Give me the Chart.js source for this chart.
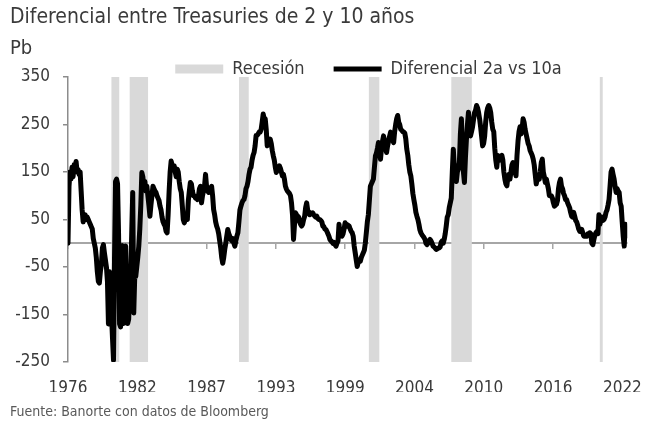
<!DOCTYPE html>
<html>
<head>
<meta charset="utf-8">
<script src="https://cdn.jsdelivr.net/npm/chart.js@4.4.1/dist/chart.umd.min.js"></script>
<style>
  body { margin: 0; background: #fff; }
  #wrap { position: relative; width: 650px; height: 429px; font-family: 'Liberation Sans Narrow', 'DejaVu Sans Condensed', sans-serif; color: #3a3a3a; }
  #title { position: absolute; left: 10px; top: 4px; font-size: 21px; }
  #unit { position: absolute; left: 10px; top: 35px; font-size: 20px; }
  #source { position: absolute; left: 10px; top: 403px; font-size: 14px; color: #595959; }
  canvas { position: absolute; left: 0; top: 0; }
</style>
</head>
<body>
<div id="wrap">
  <canvas id="spreadChart" width="650" height="429"></canvas>
  <div id="title">Diferencial entre Treasuries de 2 y 10 años</div>
  <div id="unit">Pb</div>
  <div id="source">Fuente: Banorte con datos de Bloomberg</div>
</div>
<script>
// diferencial 2a vs 10a, pb, mensual desde junio 1976
const firstYear = 1976;
const firstMonth = 6;
const spread = [
  0, 120, 150, 135, 160, 140, 165,                           // 1976
  160, 172, 150, 155, 145, 150, 110, 70, 45, 55, 60, 50,      // 1977
  55, 50, 45, 40, 35, 30, 10, 0, -10, -30, -60, -80,          // 1978
  -84, -60, -45, -10, -3, -20, -35, -50, -80, -170, -60, -90, // 1979
  -150, -200, -246, -30, 130, 135, 125, 20, -170, -176, -80, -5, // 1980
  -169, -90, -6, -120, -169, -160, -100, -70, 20, 107, -147, -70, // 1981
  -70, -50, -30, -6, 30, 80, 149, 140, 120, 130, 110, 120,    // 1982
  100, 80, 57, 80, 100, 120, 115, 110, 107, 100, 95, 90,      // 1983
  78, 70, 55, 45, 40, 36, 25, 22, 60, 110, 150, 173,          // 1984
  165, 160, 163, 150, 140, 156, 150, 130, 115, 107, 80, 50,   // 1985
  43, 50, 55, 50, 90, 110, 128, 125, 110, 100, 100, 95,       // 1986
  95, 92, 100, 115, 120, 85, 100, 110, 120, 145, 120, 110,    // 1987
  107, 110, 115, 120, 100, 71, 60, 45, 36, 30, 20, 5,         // 1988
  -10, -30, -42, -30, -13, 0, 15, 29, 20, 15, 8, 5,           // 1989
  10, 0, -6, 5, 15, 22, 45, 70, 78, 85, 90, 92,               // 1990
  100, 115, 120, 130, 145, 156, 160, 175, 185, 191, 205, 227, // 1991
  227, 230, 234, 234, 240, 255, 272, 262, 262, 240, 205, 210, // 1992
  215, 219, 210, 195, 184, 175, 160, 149, 155, 160, 163, 158, // 1993
  150, 142, 145, 135, 120, 114, 110, 107, 105, 100, 85, 60,   // 1994
  8, 40, 64, 60, 57, 55, 45, 40, 36, 40, 50, 57,              // 1995
  75, 85, 70, 64, 60, 64, 62, 64, 60, 57, 55, 57,             // 1996
  52, 50, 50, 48, 45, 36, 35, 30, 29, 25, 20, 15,             // 1997
  8, 5, 3, 0, 2, -3, -6, 0, 5, 40, 15, 20,                    // 1998
  15, 20, 30, 43, 40, 36, 38, 36, 30, 25, 22, 15,             // 1999
  -6, -20, -35, -49, -40, -35, -38, -30, -25, -20, -15, 0,    // 2000
  22, 45, 60, 90, 120, 125, 130, 135, 160, 184, 190, 200,     // 2001
  212, 195, 177, 200, 215, 226, 215, 200, 191, 205, 215, 225, // 2002
  234, 225, 218, 212, 235, 250, 262, 269, 255, 250, 240, 238, // 2003
  235, 234, 232, 220, 198, 185, 165, 150, 142, 125, 105, 92,  // 2004
  80, 65, 57, 50, 40, 28, 22, 18, 15, 12, 8, 0,               // 2005
  -3, 0, 5, 8, 5, 0, -6, -8, -10, -13, -12, -10,              // 2006
  -10, -8, 2, 5, 0, 8, 20, 36, 55, 60, 75, 85,                // 2007
  95, 150, 198, 160, 135, 130, 150, 156, 170, 230, 262, 200,  // 2008
  150, 128, 180, 220, 250, 276, 250, 226, 235, 245, 260, 275, // 2009
  280, 290, 285, 275, 262, 245, 225, 205, 210, 225, 255, 275, // 2010
  285, 290, 285, 275, 255, 240, 235, 200, 175, 160, 185, 175, // 2011
  175, 180, 185, 175, 150, 135, 125, 121, 140, 145, 135, 150, // 2012
  165, 170, 165, 150, 142, 185, 215, 235, 245, 230, 240, 262, // 2013
  255, 240, 230, 220, 210, 205, 195, 190, 185, 177, 165, 145, // 2014
  125, 135, 140, 135, 150, 170, 177, 150, 140, 128, 135, 125, // 2015
  115, 100, 100, 100, 95, 85, 78, 80, 82, 90, 115, 128,       // 2016
  135, 120, 115, 105, 100, 92, 92, 85, 80, 75, 65, 57,        // 2017
  55, 65, 57, 48, 45, 38, 30, 25, 25, 29, 22, 15,             // 2018
  15, 16, 15, 20, 18, 22, 20, 0, -3, 8, 17, 22,               // 2019
  25, 20, 60, 40, 50, 55, 48, 50, 55, 65, 70, 80,             // 2020
  92, 120, 150, 156, 145, 135, 120, 107, 115, 110, 107, 85,   // 2021
  78, 45, 15, -6, 40, 15, 30                                  // 2022
];

// recesiones (inicio / fin, años decimales)
const recessionStart = [1979.98, 1981.48, 1990.50, 2001.19, 2007.99, 2020.22];
const recessionEnd   = [1980.66, 1983.03, 1991.32, 2002.09, 2009.70, 2020.49];

// etiquetas del eje x
const tickYears  = [1976.42, 1982.13, 1987.84, 1993.55, 1999.26, 2004.97, 2010.68, 2016.39, 2022.10];
const tickLabels = ['1976', '1982', '1987', '1993', '1999', '2004', '2010', '2016', '2022'];

const yMin = -250;
const yMax = 350;

const spreadPoints = spread.map((v, i) => ({ x: firstYear + (firstMonth - 1 + i) / 12, y: v }));
const xMin = spreadPoints[0].x;
const xMax = spreadPoints[spreadPoints.length - 1].x;

const recessionPoints = [];
recessionStart.forEach((s, i) => {
  recessionPoints.push({ x: s, y: yMax }, { x: recessionEnd[i], y: yMax }, { x: recessionEnd[i], y: null });
});

const FONT = "'Liberation Sans Narrow', 'DejaVu Sans Condensed', sans-serif";
Chart.defaults.font.family = FONT;
Chart.defaults.color = '#3a3a3a';

// mueve la leyenda a su lugar
const legendShift = {
  id: 'legendShift',
  afterLayout(chart) {
    const lg = chart.legend;
    lg.left += 52; lg.right += 52;
    lg.top += 11; lg.bottom += 11;
  }
};

const setTicks = s => { s.ticks = tickYears.map(v => ({ value: v })); };

new Chart(document.getElementById('spreadChart'), {
  type: 'line',
  data: {
    datasets: [{
      label: 'Recesión',
      data: recessionPoints,
      backgroundColor: '#d9d9d9',
      borderWidth: 0,
      pointRadius: 0,
      fill: 'start',
      spanGaps: false,
      pointStyle: 'rect',
      order: 2
    }, {
      label: 'Diferencial 2a vs 10a',
      data: spreadPoints,
      borderColor: '#000',
      backgroundColor: '#000',
      borderWidth: 5,
      borderJoinStyle: 'round',
      borderCapStyle: 'round',
      pointRadius: 0,
      tension: 0,
      fill: false,
      pointStyle: 'line',
      order: 1
    }]
  },
  options: {
    responsive: false,
    animation: false,
    devicePixelRatio: 1,
    layout: { padding: { top: 20, right: 17, bottom: 37, left: 0 } },
    plugins: {
      legend: {
        position: 'top',
        labels: {
          usePointStyle: true,
          pointStyleWidth: 48,
          boxHeight: 9,
          padding: 29,
          color: '#3a3a3a',
          font: { size: 18 },
          sort: (a, b) => a.datasetIndex - b.datasetIndex
        }
      },
      tooltip: { enabled: false }
    },
    scales: {
      x: {
        type: 'linear',
        min: xMin,
        max: xMax,
        afterBuildTicks: setTicks,
        afterFit: s => { s.height = 30; },
        grid: { display: false },
        border: { display: false },
        ticks: {
          autoSkip: false,
          maxRotation: 0,
          padding: 8,
          color: '#3a3a3a',
          font: { size: 17 },
          callback: (v, i) => tickLabels[i]
        }
      },
      xz: {
        type: 'linear',
        axis: 'x',
        position: { y: 0 },
        min: xMin,
        max: xMax,
        afterBuildTicks: setTicks,
        grid: { drawOnChartArea: false, drawTicks: true, tickLength: 5, color: '#a6a6a6', lineWidth: 1.5 },
        border: { display: true, color: '#a6a6a6', width: 2 },
        ticks: { display: false }
      },
      y: {
        min: yMin,
        max: yMax,
        afterFit: s => { s.width = 68; },
        ticks: { stepSize: 100, padding: 13, color: '#3a3a3a', font: { size: 17 } },
        grid: { drawOnChartArea: false, drawTicks: true, tickLength: 5, color: '#8c8c8c', lineWidth: 1.5 },
        border: { display: true, color: '#8c8c8c', width: 1.5 }
      }
    }
  },
  plugins: [legendShift]
});
</script>
</body>
</html>
